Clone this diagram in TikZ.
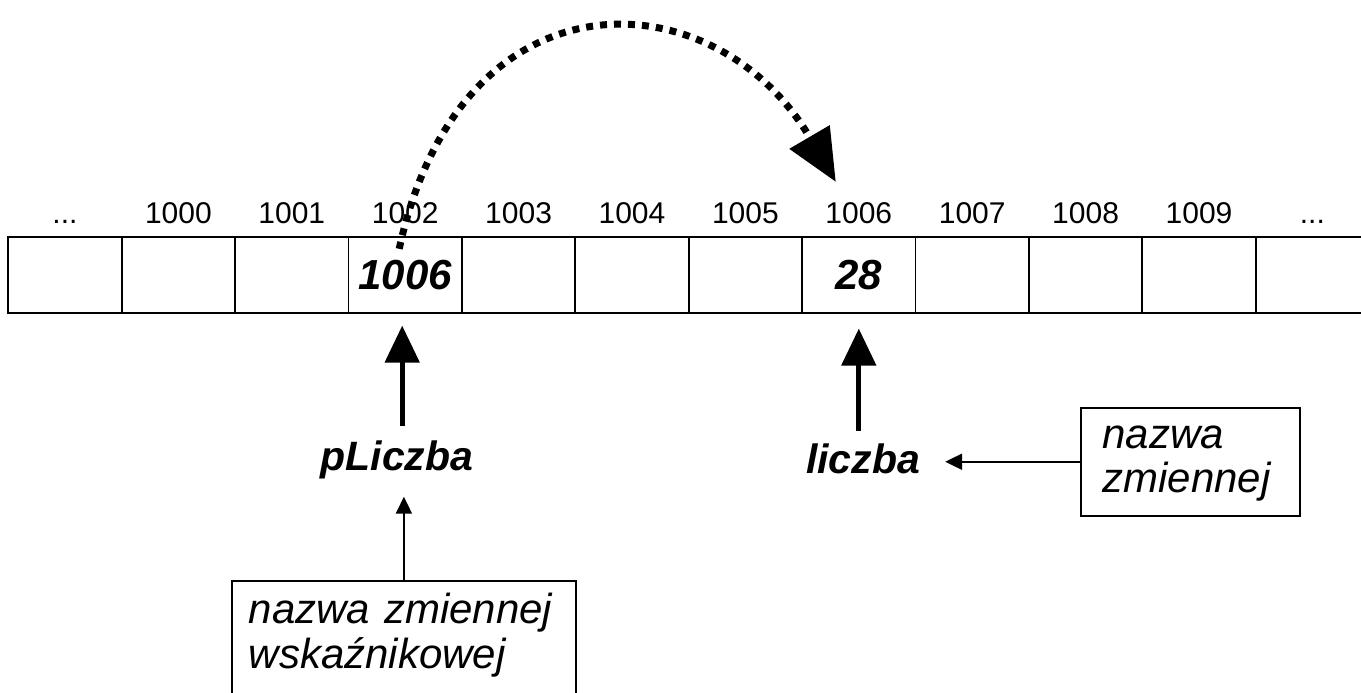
\documentclass[tikz,border=0pt]{standalone}
\usepackage{fontspec}
\setmainfont{Liberation Sans}
\usetikzlibrary{arrows.meta}
\newcommand{\mydots}{.\kern0pt.\kern0pt.}
\begin{document}
\begin{tikzpicture}[x=1pt,y=-1pt,
  cell/.style={draw, line width=1.8pt, minimum width=113.4pt, minimum height=76pt, inner sep=0pt,
    font=\fontsize{42}{48}\selectfont\bfseries\itshape},
  addr/.style={inner sep=0pt, font=\fontsize{30}{36}\selectfont},
  varname/.style={inner sep=0pt, font=\fontsize{41}{48}\selectfont\bfseries\itshape},
  note/.style={align=left, line width=1.8pt},
  bigarrow/.style={line width=5pt, -{Triangle[length=37pt,width=34pt]}},
  thinarrow/.style={line width=2pt, -{Triangle[length=17pt,width=16pt]}},
  ptrarrow/.style={line width=7pt, dash pattern=on 7pt off 7pt, -{Triangle[length=52pt,width=45pt]}}
]
\useasboundingbox (0,0) rectangle (1361,693);
\clip (0,0) rectangle (1361,693);
% memory cells
\foreach \i/\v in {0/,1/,2/,3/1006,4/,5/,6/,7/28,8/,9/,10/,11/}{
  \node[cell] (c\i) at ({65+113.4*\i},274.7) {\v};
}
% addresses
\foreach \i/\t in {0/\mydots,1/1000,2/1001,3/1002,4/1003,5/1004,6/1005,7/1006,8/1007,9/1008,10/1009,11/\mydots}{
  \node[addr, anchor=base] (l\i) at ({65+113.4*\i},223) {\t};
}
% variable names
\node[varname, anchor=base] (pl) at (397,470) {pLiczba};
\node[varname, anchor=base] (lz) at (863,473) {liczba};
% notes
\node[note, anchor=north west, inner xsep=16pt, inner ysep=11.3pt, text width=310pt,
  font=\fontsize{42}{42}\selectfont\itshape] (b1) at (232,581)
  {\strut nazwa zmiennej\\\strut wskaźnikowej};
\draw[line width=1.8pt] ([yshift=-30pt]b1.south west) |- (b1.north east) -- ([yshift=-30pt]b1.south east);
\node[note, draw, anchor=north west, inner xsep=21.7pt, inner ysep=10.45pt, text width=175.6pt,
  font=\fontsize{42}{43.7}\selectfont\itshape] (b2) at (1080,406.7)
  {\strut nazwa\\\strut zmiennej};
% arrows
\draw[bigarrow, shorten <=14pt, shorten >=12pt] ([xshift=-3pt]c3.south |- pl.north) -- ([xshift=-3pt]c3.south);
\draw[bigarrow, shorten <=12pt, shorten >=15pt] (lz.north -| c7.south) -- (c7.south);
\draw[thinarrow, shorten >=18pt] (b1.north) -- (b1.north |- pl.south);
\draw[thinarrow, shorten >=25pt] (b2.west) -- (b2.west -| lz.east);
\draw[ptrarrow] ([xshift=-6pt,yshift=-13pt]c3.north) .. controls +(62,-285) and +(-120,-205) .. ([xshift=-23pt,yshift=20pt]l7.north);
\end{tikzpicture}
\end{document}
